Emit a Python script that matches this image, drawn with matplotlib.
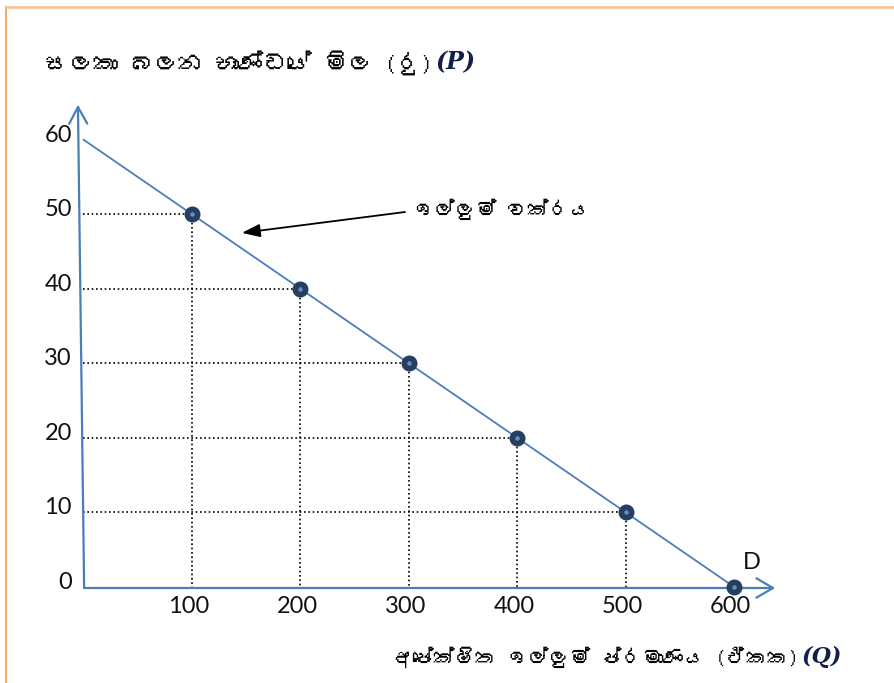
import matplotlib
matplotlib.use("Agg")
import matplotlib.pyplot as plt
from matplotlib import font_manager as fm
from matplotlib.ft2font import FT2Font
from matplotlib.lines import Line2D

# demand schedule
quantity = [0, 100, 200, 300, 400, 500, 600]
price = [60, 50, 40, 30, 20, 10, 0]
x_ticks = [100, 200, 300, 400, 500, 600]
y_ticks = [0, 10, 20, 30, 40, 50, 60]


def find_family(code):
    """first installed family that has a glyph for this code point"""
    for f in fm.fontManager.ttflist:
        try:
            if code in FT2Font(f.fname).get_charmap():
                return f.name
        except Exception:
            pass
    return None


sin_family = find_family(0x0DC3)
families = ([sin_family] if sin_family else []) + ["Lato", "DejaVu Sans"]
plt.rcParams["font.family"] = families

# no text shaping here, so the joiner is left out (it would draw as a box)
y_title = "සලකා බලන භාණ්ඩයේ මිල (රු)"
x_title = "අපේක්ෂිත ඉල්ලුම් ප්රමාණය (ඒකක)"
curve_label = "ඉල්ලුම් වක්රය"

blue = "#4a7ebb"
navy = "#243f60"

fig = plt.figure(figsize=(8.95, 6.83), dpi=100)
ax = fig.add_axes([0, 0, 1, 1])
ax.set_xlim(-77.1, 748.5)
ax.set_ylim(-12.9, 78.75)
ax.axis("off")

# orange frame on left and top
fig.add_artist(Line2D([6.5 / 895, 6.5 / 895], [0, 1 - 6.5 / 683], color="#f7a35c", lw=1.3))
fig.add_artist(Line2D([6.5 / 895, 1], [1 - 6.5 / 683, 1 - 6.5 / 683], color="#fbbf8a", lw=1.8))

# axes with open arrow heads
ax.annotate("", xy=(638, -0.15), xytext=(0.5, -0.15),
            arrowprops=dict(arrowstyle="->,head_length=1.2,head_width=0.7",
                            color=blue, lw=1.6, shrinkA=0, shrinkB=0))
ax.annotate("", xy=(-5.2, 64.7), xytext=(0.5, -0.15),
            arrowprops=dict(arrowstyle="->,head_length=1.2,head_width=0.65",
                            color=blue, lw=1.6, shrinkA=0, shrinkB=0))

# dotted guides
for q, p in zip(quantity[1:-1], price[1:-1]):
    ax.plot([-0.5, q], [p, p], color="black", ls=(0, (1, 1.6)), lw=1.2)
    ax.plot([q, q], [p, 0], color="black", ls=(0, (1, 1.6)), lw=1.2)

# demand curve
ax.plot(quantity, price, color=blue, lw=1.3, zorder=3)
ax.plot(quantity[1:], price[1:], "o", ms=10.5, color=navy, zorder=4)
ax.plot(quantity[1:], price[1:], "o", ms=2.2, color="#6a8fc0", zorder=5)

tick_font = dict(family=["Lato", "DejaVu Sans"], fontsize=17, color="#111111")
for q in x_ticks:
    ax.text(q - 3, -2.6, str(q), ha="center", va="center", **tick_font)
for p in y_ticks:
    ax.text(-10.7, p + 0.6, str(p), ha="right", va="center", **tick_font)

ax.text(616.6, 3.3, "D", ha="center", va="center", **tick_font)

# curve label with arrow
ax.text(303.9, 50.6, curve_label, ha="left", va="center", fontsize=15)
ax.annotate("", xy=(146.1, 47.5), xytext=(296.5, 50.3),
            arrowprops=dict(arrowstyle="-|>,head_length=1.1,head_width=0.4",
                            color="black", lw=1.3, shrinkA=0, shrinkB=0))

# axis titles
yt = ax.text(-35.6, 70.4, y_title, ha="left", va="center", fontsize=17.5)
ax.annotate("(P)", xy=(1, 0.5), xycoords=yt, xytext=(2, 0), textcoords="offset points",
            ha="left", va="center", fontsize=17, fontweight="bold", style="italic",
            color="#14204a", family=["DejaVu Serif"])
xt = ax.text(284.5, -9.4, x_title, ha="left", va="center", fontsize=15, fontweight="bold")
ax.annotate("(Q)", xy=(1, 0.5), xycoords=xt, xytext=(2, 0), textcoords="offset points",
            ha="left", va="center", fontsize=16, fontweight="bold", style="italic",
            color="#14204a", family=["DejaVu Serif"])

fig.savefig("out.png", dpi=100)
